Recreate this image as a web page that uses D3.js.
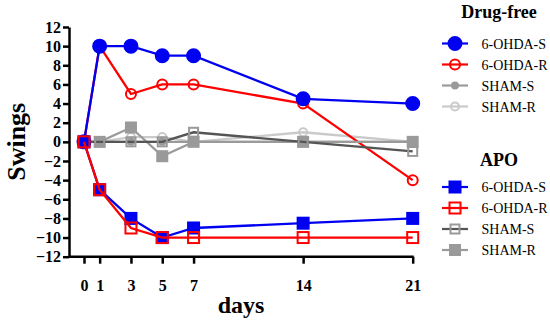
<!DOCTYPE html>
<html>
<head>
<meta charset="utf-8">
<title>Swings over days</title>
<style>
  body { margin: 0; background: #fff; }
  svg text { font-family: "Liberation Serif", "Times New Roman", serif; }
</style>
</head>
<body>
<script src="https://cdn.jsdelivr.net/npm/d3@7/dist/d3.min.js"></script>
<script>
    var w = 550, h = 324;

    var days = [0, 1, 3, 5, 7, 14, 21];
    var yTicks = [-12, -10, -8, -6, -4, -2, 0, 2, 4, 6, 8, 10, 12];

    // Drug-free
    var freeOhdaS = [0, 10, 10, 9, 9, 4.5, 4];
    var freeOhdaR = [0, 10, 5, 6, 6, 4, -4];
    var freeShamS = [0, 0, 0, 0, 0, 0, 0];
    var freeShamR = [0, 0, 0.5, 0.5, 0, 1, 0];

    // APO
    var apoOhdaS = [0, -5, -8, -10, -9, -8.5, -8];
    var apoOhdaR = [0, -5, -9, -10, -10, -10, -10];
    var apoShamS = [0, 0, 0, 0, 1, 0, -1];
    var apoShamR = [0, 0, 1.5, -1.5, 0, 0, 0];

    var names = ['6-OHDA-S', '6-OHDA-R', 'SHAM-S', 'SHAM-R'];

    // styles: line colour, marker shape, marker fill, marker stroke, size
    var freeStyles = [
        {line: '#0000f0', shape: 'circle', fill: '#0000f0', stroke: '#0000f0', r: 6.5},
        {line: '#ff0000', shape: 'circle', fill: 'none', stroke: '#ff0000', r: 5},
        {line: '#9a9a9a', shape: 'circle', fill: '#9a9a9a', stroke: '#9a9a9a', r: 3},
        {line: '#cacaca', shape: 'circle', fill: 'none', stroke: '#cacaca', r: 4}
    ];
    var apoStyles = [
        {line: '#0000f0', shape: 'square', fill: '#0000f0', stroke: '#0000f0', r: 5.5},
        {line: '#ff0000', shape: 'square', fill: 'none', stroke: '#ff0000', r: 5.5},
        {line: '#555555', shape: 'square', fill: 'none', stroke: '#999999', r: 4.5},
        {line: '#9a9a9a', shape: 'square', fill: '#9a9a9a', stroke: '#9a9a9a', r: 5}
    ];

    var svg = d3.select('body').append('svg')
        .attr('width', w)
        .attr('height', h);

    var x = d3.scaleLinear().domain([0, 21]).range([84, 412.7]);
    var y = d3.scaleLinear().domain([-12, 12]).range([256.7, 27]);

    var line = d3.line()
        .x(function(d) { return x(d.day); })
        .y(function(d) { return y(d.value); });

    function drawMarker(g, st, cx, cy) {
        if (st.shape === 'circle') {
            g.append('circle')
                .attr('cx', cx).attr('cy', cy).attr('r', st.r)
                .attr('fill', st.fill).attr('stroke', st.stroke).attr('stroke-width', 2);
        } else {
            g.append('rect')
                .attr('x', cx - st.r).attr('y', cy - st.r)
                .attr('width', st.r * 2).attr('height', st.r * 2)
                .attr('fill', st.fill).attr('stroke', st.stroke).attr('stroke-width', 2);
        }
    }

    function drawSeries(values, st) {
        var pts = days.map(function(d, i) { return {day: d, value: values[i]}; });
        var g = svg.append('g');
        g.append('path')
            .datum(pts)
            .attr('d', line)
            .attr('fill', 'none')
            .attr('stroke', st.line)
            .attr('stroke-width', 2.3);
        pts.forEach(function(p) {
            drawMarker(g, st, x(p.day), y(p.value));
        });
    }

    // draw order: greys first, colours on top
    drawSeries(freeShamR, freeStyles[3]);
    drawSeries(freeShamS, freeStyles[2]);
    drawSeries(freeOhdaR, freeStyles[1]);
    drawSeries(freeOhdaS, freeStyles[0]);
    drawSeries(apoShamR, apoStyles[3]);
    drawSeries(apoShamS, apoStyles[2]);
    drawSeries(apoOhdaS, apoStyles[0]);
    drawSeries(apoOhdaR, apoStyles[1]);

    // axes
    var yAxis = svg.append('g')
        .attr('transform', 'translate(69,0)')
        .call(d3.axisLeft(y).tickValues(yTicks).tickSize(6).tickPadding(2).tickSizeOuter(0));
    var xAxis = svg.append('g')
        .attr('transform', 'translate(0,256.7)')
        .call(d3.axisBottom(x).tickValues(days).tickSize(7).tickPadding(16).tickSizeOuter(0));

    xAxis.select('.domain').remove();
    xAxis.append('line')
        .attr('x1', 69).attr('x2', x(21) + 1)
        .attr('y1', 0).attr('y2', 0)
        .attr('stroke', '#000').attr('stroke-width', 2.5);

    [yAxis, xAxis].forEach(function(a) {
        a.style('font-family', '"Liberation Serif", serif');
        a.selectAll('.domain').attr('stroke-width', 2.5);
        a.selectAll('.tick line').attr('stroke-width', 2.5);
        a.selectAll('.tick text')
            .style('font-family', '"Liberation Serif", serif')
            .style('font-weight', 'bold')
            .style('font-size', '16px')
            .attr('fill', '#000');
    });

    // axis titles
    svg.append('text')
        .attr('transform', 'translate(25,141.8) rotate(-90)')
        .attr('text-anchor', 'middle')
        .attr('font-weight', 'bold')
        .attr('font-size', 26)
        .text('Swings');
    svg.append('text')
        .attr('x', 241)
        .attr('y', 313)
        .attr('text-anchor', 'middle')
        .attr('font-weight', 'bold')
        .attr('font-size', 24)
        .text('days');

    // legends
    function drawLegend(title, titleY, rowY, styles) {
        svg.append('text')
            .attr('x', 499).attr('y', titleY)
            .attr('text-anchor', 'middle')
            .attr('font-weight', 'bold')
            .attr('font-size', 18)
            .text(title);
        names.forEach(function(n, i) {
            var ly = rowY + i * 21;
            var g = svg.append('g');
            g.append('line')
                .attr('x1', 442).attr('x2', 468)
                .attr('y1', ly).attr('y2', ly)
                .attr('stroke', styles[i].line)
                .attr('stroke-width', 2.2);
            drawMarker(g, styles[i], 455, ly);
            g.append('text')
                .attr('x', 481.5).attr('y', ly + 5)
                .attr('font-size', 14)
                .text(n);
        });
    }

    drawLegend('Drug-free', 18, 43.5, freeStyles);
    drawLegend('APO', 166, 187, apoStyles);
</script>
</body>
</html>
